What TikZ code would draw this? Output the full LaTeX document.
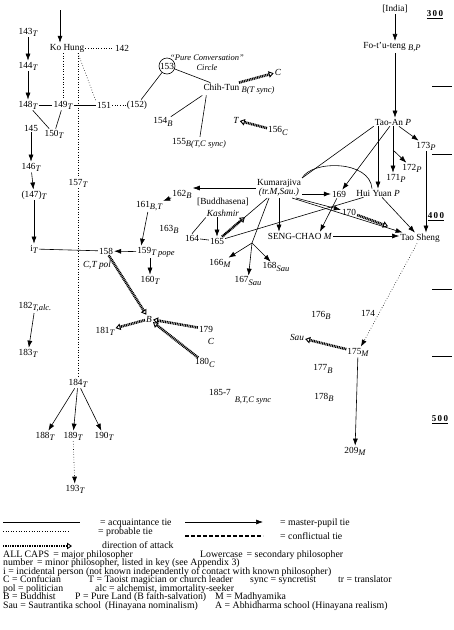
\documentclass[tikz,border=0pt]{standalone}
\usepackage{fontspec}
\setmainfont{Liberation Serif}
\usepackage{tikz}
\usetikzlibrary{arrows.meta, calc}

% italic, lowered school / type mark after a name
\newcommand{\ty}[1]{\raisebox{-0.5ex}{\fontsize{8.5}{9}\selectfont\itshape #1}}

\begin{document}
\begin{tikzpicture}[x=1pt, y=-1pt,
    every node/.style={inner sep=1pt, font=\fontsize{9.3}{9.5}\selectfont},
    acq/.style={line width=0.6pt},
    prob/.style={line width=0.6pt, dotted},
    mp/.style={line width=0.6pt, -{Latex[length=7pt, width=5pt]}},
    probmp/.style={mp, dotted},
    attack/.style={line width=2.6pt, dash pattern=on 1pt off 0.7pt,
      -{Triangle[open, length=5pt, width=6.5pt, line width=0.9pt]}},
    conflict/.style={line width=2.2pt, dash pattern=on 4pt off 2pt},
    key/.style={anchor=base west, inner sep=0pt, font=\fontsize{9.8}{9.8}\selectfont},
    decade/.style={font=\fontsize{9}{9}\selectfont\bfseries}]
  \useasboundingbox (0,0) rectangle (454,630);

  % Ko Hung and the Taoist column
  \coordinate (khin) at (60,10);
  \node (kohung) at (67,48) {Ko Hung};
  \node (n142) at (122,48) {142};
  \node (n143) at (28,32) {143\ty{T}};
  \node (n144) at (28,66) {144\ty{T}};
  \node (n148) at (28,105) {148\ty{T}};
  \node (n149) at (63,105) {149\ty{T}};
  \node (n151) at (104,105) {151};
  \node (n152) at (137,105) {(152)};
  \node (n150) at (54,134) {150\ty{T}};
  \node (n145) at (31,128) {145};
  \node (n146) at (31,167) {146\ty{T}};
  \node (n147) at (34,195) {(147)\ty{T}};
  \node (n157) at (78,183) {157\ty{T}};
  \node (ni) at (34,249) {i\ty{T}};
  \node (n182) at (35,307) {182\ty{T,alc.}};
  \node (n183) at (28,353) {183\ty{T}};
  \node (n184) at (78,383) {184\ty{T}};
  \node (n188) at (45,436) {188\ty{T}};
  \node (n189) at (73,436) {189\ty{T}};
  \node (n190) at (104,436) {190\ty{T}};
  \node (n193) at (75,489) {193\ty{T}};

  \draw[mp] (khin) -- (khin |- kohung.north);
  \draw[prob] (kohung) -- (n142);
  \draw[mp] (n143) -- (n144);
  \draw[mp] (n144) -- (n148);
  \draw[acq] (n148) -- (n149);
  \draw[acq] (n149) -- (n151);
  \draw[prob] (n151) -- (n152);
  \draw[acq] (n148) -- (n150);
  \draw[acq] (n149) -- (n150);
  \draw[prob] (kohung.south -| n149) -- (n149);
  \draw[prob] (kohung.south -| n157) -- (n151.north west);
  \draw[prob] (kohung.south -| n157) -- (n157);
  \draw[prob] (n157) -- (n184);
  \draw[mp] (n145) -- (n146);
  \draw[mp] (n146) -- (n147);
  \draw[mp] (n147) -- (ni);
  \draw[mp] (n182) -- (n183);
  \draw[mp] (n184) -- (n188);
  \draw[mp] (n184) -- (n189);
  \draw[mp] (n184) -- (n190);
  \draw[probmp] (n189) -- (n193);

  % 158 -- 163 and the attacks on B
  \node (n158) at (106,251) {158};
  \node (n159) at (156,252) {159\ty{T pope}};
  \node (n160) at (150,280) {160\ty{T}};
  \node (n161) at (149,206) {161\ty{B,T}};
  \node (n162) at (182,194) {162\ty{B}};
  \node (n163) at (169,229) {163\ty{B}};
  \node[font=\fontsize{9.3}{9.5}\selectfont\itshape] (nctpol) at (97,265) {C,T pol};
  \node[font=\fontsize{9.3}{9.5}\selectfont\itshape] (nB) at (149,319) {B};
  \node (n179) at (206,329) {179};
  \node[font=\fontsize{9.3}{9.5}\selectfont\itshape] (n179c) at (211,341) {C};
  \node (n180) at (205,363) {180\ty{C}};
  \node (n181) at (105,331) {181\ty{T}};

  \draw[acq] (ni) -- (n158);
  \draw[mp] (n159) -- (n158);
  \draw[mp] (n159.south -| n160) -- (n160);
  \draw[mp] (n161) -- ([xshift=5pt]n159.north west);
  \draw[mp] (n162) -- (n161);
  \draw[attack] (n158) -- (nB);
  \draw[attack] (nB) -- (n181);
  \draw[attack] (n179) -- (nB);
  \draw[attack] (n180) -- (nB);

  % Chih-Tun and the Pure Conversation circle
  \node[draw, circle, line width=0.6pt, minimum size=16pt, inner sep=0pt] (n153) at (167,66) {153};
  \node[align=center, font=\fontsize{8.5}{10}\selectfont\itshape] (pcc) at (207,63) {``Pure Conversation''\\Circle};
  \node (chihtun) at (239,89) {Chih-Tun \ty{B(T sync)}};
  \node[font=\fontsize{9.3}{9.5}\selectfont\itshape] (nC) at (278,72) {C};
  \node (n154) at (163,122) {154\ty{B}};
  \node (n155) at (199,143) {155\ty{B(T,C sync)}};
  \node[font=\fontsize{9.3}{9.5}\selectfont\itshape] (nT) at (236,120) {T};
  \node (n156) at (278,131) {156\ty{C}};

  \draw[acq] (n152) -- (n153);
  \draw[acq] (n153) -- ([xshift=8pt]chihtun.north west);
  \draw[acq] (chihtun.south west) -- (n154);
  \draw[acq] ([xshift=4pt]chihtun.south west) -- (n155);
  \draw[attack] (chihtun.north) -- (nC);
  \draw[attack] (n156) -- (nT);

  % India, Fo-t'u-teng, Tao-An
  \node (india) at (395,9) {[India]};
  \node (fotuteng) at (392,47) {Fo-t'u-teng \ty{B,P}};
  \node (taoan) at (393,122) {Tao-An \textit{P}};
  \node (n173) at (426,146) {173\ty{P}};
  \node (n172) at (412,168) {172\ty{P}};
  \node (n171) at (396,178) {171\ty{P}};
  \coordinate (br172) at (393,150);

  \draw[mp] (india) -- (india |- fotuteng.north);
  \draw[mp] (india |- fotuteng.south) -- (india |- taoan.north);
  \draw[mp] (taoan) -- (n173);
  \draw[mp] (taoan.south) -- (taoan.south |- n171.north);
  \draw[mp] (br172) -- (n172);

  % Kumarajiva and his circle
  \node[align=center] (kum) at (279,188) {Kumarajiva\\\textit{(tr.M,Sau.)}};
  \node (buddha) at (223,202) {[Buddhasena]};
  \node[font=\fontsize{9.3}{9.5}\selectfont\itshape] (kashmir) at (223,213) {Kashmir};
  \node (n164) at (192,238) {164};
  \node (n165) at (217,241) {165};
  \node (n166) at (220,263) {166\ty{M}};
  \node (n167) at (248,281) {167\ty{Sau}};
  \node (n168) at (276,267) {168\ty{Sau}};
  \node (n169) at (339,194) {169};
  \node (n170) at (349,212) {170};
  \node (huiyuan) at (378,193) {Hui Yuan \textit{P}};
  \node (sengchao) at (300,236) {SENG-CHAO \textit{M}};
  \node (taosheng) at (420,238) {Tao Sheng};
  \coordinate (fork) at (252,243);

  \draw[mp] (kum.west) -- (kum.west -| n162.east);
  \draw[mp] (kashmir.south -| n165) -- (n165);
  \draw[acq] (n164) -- (n165);
  \draw[acq] (n164.north) -- (kashmir.south west);
  \draw[acq] (kum) -- (n165);
  \draw[attack] (n165) -- ($(n165)!0.45!(kum)$);
  \draw[acq] (n165) -- (huiyuan);
  \draw[mp] ([xshift=-10pt]kum.south) -- (fork) -- (n167);
  \draw[mp] (fork) -- (n166);
  \draw[mp] (fork) -- (n168);
  \draw[mp] (kum.south) -- (kum.south |- sengchao.north);
  \draw[mp] (kum.east |- n169) -- (n169);
  \draw[mp] ([xshift=-6pt]kum.south east) -- (n170);
  \draw[mp] ([xshift=-10pt]kum.south east) -- (taosheng);
  \draw[attack] (n170) -- ($(n170)!0.55!(taosheng)$);
  \draw[mp] (n169) -- ([xshift=20pt]sengchao.north);
  \draw[mp] (sengchao.east) -- (sengchao.east -| taosheng.west);
  \draw[mp] (huiyuan) -- (taosheng);
  \draw[mp] (taoan) -- (n169);
  \draw[acq] (taoan.south west) -- (kum.north east);
  \draw[mp] (taoan.south -| huiyuan) -- (huiyuan);
  \draw[acq] (kum.north east) .. controls (312,160) and (370,160) .. ([xshift=-6pt]huiyuan.north);
  \draw[mp] (n173.south) -- (n173.south |- taosheng.north);

  % Tao Sheng's line
  \node (n174) at (368,313) {174};
  \node (n176) at (321,315) {176\ty{B}};
  \node[font=\fontsize{9.3}{9.5}\selectfont\itshape] (nsau) at (297,337) {Sau};
  \node (n175) at (358,352) {175\ty{M}};
  \node (n177) at (323,369) {177\ty{B}};
  \node (n178) at (324,397) {178\ty{B}};
  \node (n185) at (220,392) {185-7};
  \node[font=\fontsize{8.5}{9}\selectfont\itshape] (n185t) at (253,401) {B,T,C sync};
  \node (n209) at (355,451) {209\ty{M}};

  \draw[probmp] (taosheng) -- (n175);
  \draw[attack] (n175) -- (nsau);
  \draw[mp] (n175) -- (n209);

  % century marks
  \node[decade] (c300) at (435,15) {\underline{3\,0\,0}};
  \node[decade] (c400) at (436,217) {\underline{4\,0\,0}};
  \node[decade] (c500) at (440,420) {\underline{5\,0\,0}};
  \foreach \y in {86,154,289,356}
    \draw[line width=0.6pt] (432,\y) -- (452,\y);

  % key
  \draw[acq] (3,522) -- (80,522);
  \draw[prob] (3,531) -- (70,531);
  \draw[attack] (3,546) -- (72,546);
  \draw[mp] (185,522) -- (263,522);
  \draw[conflict] (185,536) -- (263,536);
  \node[key] (kacq) at (100,525.5) {= acquaintance tie};
  \node[key] (kprob) at (98,534.5) {= probable tie};
  \node[key] (katt) at (102,548.5) {direction of attack};
  \node[key] (kmp) at (280,525.5) {= master-pupil tie};
  \node[key] (kcon) at (280,539) {= conflictual tie};

  \node[key] (k1) at (3,557) {ALL CAPS\, = major philosopher};
  \node[key] (k1b) at (200,557) {Lowercase\, = secondary philosopher};
  \node[key] (k2) at (3,565.5) {number\, = minor philosopher, listed in key (see Appendix 3)};
  \node[key] (k3) at (3,574) {i = incidental person (not known independently of contact with known philosopher)};
  \node[key] (k4) at (3,582.5) {C = Confucian};
  \node[key] (k4b) at (88,582.5) {T = Taoist magician or church leader};
  \node[key] (k4c) at (250,582.5) {sync = syncretist};
  \node[key] (k4d) at (338,582.5) {tr = translator};
  \node[key] (k5) at (3,591) {pol = politician};
  \node[key] (k5b) at (95,591) {alc = alchemist, immortality-seeker};
  \node[key] (k6) at (3,599.5) {B = Buddhist};
  \node[key] (k6b) at (75,599.5) {P = Pure Land (B faith-salvation)};
  \node[key] (k6c) at (215,599.5) {M = Madhyamika};
  \node[key] (k7) at (3,608) {Sau = Sautrantika school\, (Hinayana nominalism)};
  \node[key] (k7b) at (215,608) {A = Abhidharma school (Hinayana realism)};
\end{tikzpicture}
\end{document}
